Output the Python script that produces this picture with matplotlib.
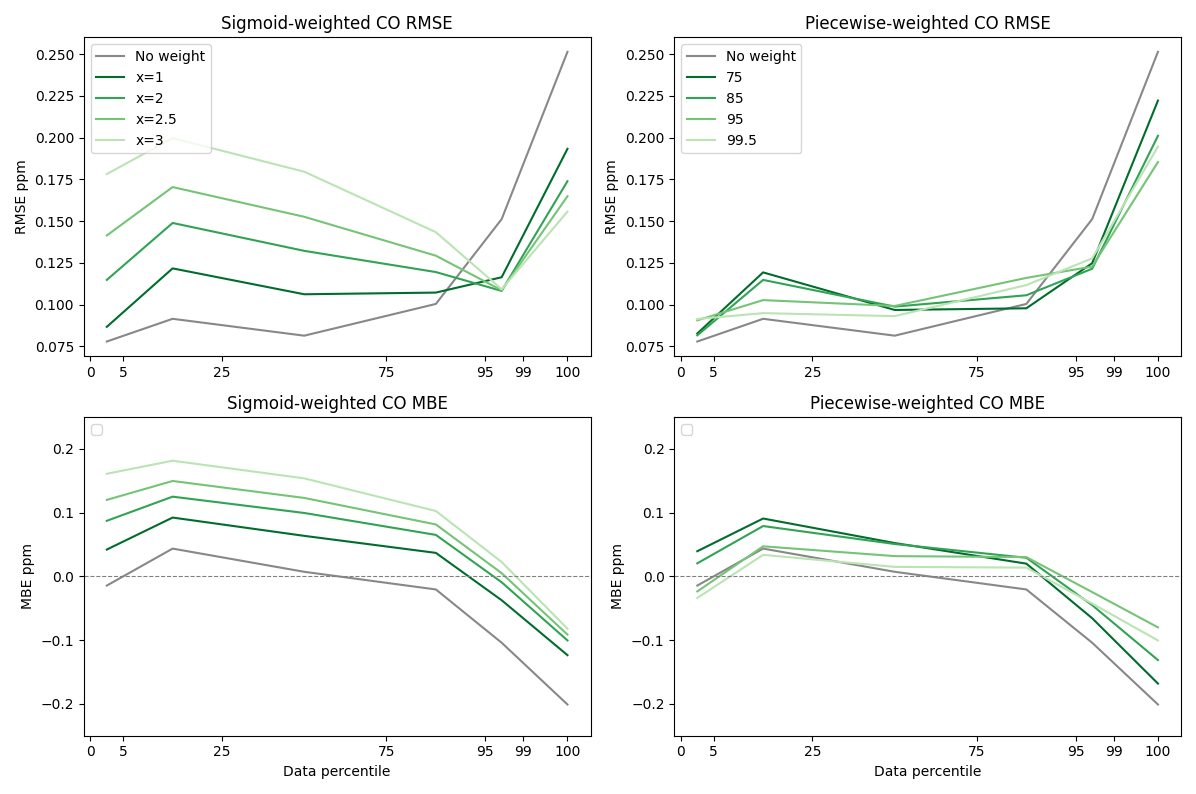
import matplotlib
matplotlib.use("Agg")
import matplotlib.pyplot as plt

# x positions of the percentile bins (uneven axis) and tick positions
x_pos = [0.5, 2.5, 6.5, 10.5, 12.5, 14.5]
tick_pos = [0, 1, 4, 9, 12, 13.15, 14.5]
tick_labels = ['0', '5', '25', '75', '95', '99', '100']

no_weight_rmse = [0.0779, 0.0915, 0.0814, 0.1004, 0.1512, 0.2514]
no_weight_mbe = [-0.0144, 0.0436, 0.0072, -0.0205, -0.1041, -0.2010]

sig_labels = ['x=1', 'x=2', 'x=2.5', 'x=3']
sig_rmse = [
    [0.0867, 0.1217, 0.1062, 0.1072, 0.1164, 0.1933],
    [0.1148, 0.1489, 0.1322, 0.1195, 0.1082, 0.1739],
    [0.1414, 0.1704, 0.1526, 0.1293, 0.1086, 0.1649],
    [0.1782, 0.1997, 0.1796, 0.1434, 0.1092, 0.1557],
]
sig_mbe = [
    [0.0421, 0.0923, 0.0636, 0.0369, -0.0374, -0.1236],
    [0.0872, 0.1251, 0.0995, 0.0651, -0.0092, -0.1005],
    [0.1200, 0.1497, 0.1231, 0.0815, 0.0051, -0.0913],
    [0.1610, 0.1815, 0.1538, 0.1026, 0.0226, -0.0821],
]

pw_labels = ['75', '85', '95', '99.5']
pw_rmse = [
    [0.0827, 0.1193, 0.0968, 0.0978, 0.1248, 0.2222],
    [0.0816, 0.1148, 0.0988, 0.1056, 0.1215, 0.2011],
    [0.0906, 0.1027, 0.0992, 0.1160, 0.1228, 0.1854],
    [0.0914, 0.0949, 0.0931, 0.1117, 0.1277, 0.1946],
]
pw_mbe = [
    [0.0395, 0.0908, 0.0523, 0.0200, -0.0656, -0.1682],
    [0.0205, 0.0790, 0.0508, 0.0292, -0.0451, -0.1313],
    [-0.0236, 0.0472, 0.0318, 0.0303, -0.0246, -0.0800],
    [-0.0338, 0.0338, 0.0149, 0.0138, -0.0426, -0.1005],
]

greens = ['#006d2c', '#31a354', '#74c476', '#bae4b3']
grey = '#888888'

fig, axes = plt.subplots(2, 2, figsize=(11.96, 7.94), dpi=100)

panels = [
    (axes[0, 0], no_weight_rmse, sig_rmse, sig_labels, 'Sigmoid-weighted CO RMSE', 'RMSE ppm', True),
    (axes[0, 1], no_weight_rmse, pw_rmse, pw_labels, 'Piecewise-weighted CO RMSE', 'RMSE ppm', True),
    (axes[1, 0], no_weight_mbe, sig_mbe, sig_labels, 'Sigmoid-weighted CO MBE', 'MBE ppm', False),
    (axes[1, 1], no_weight_mbe, pw_mbe, pw_labels, 'Piecewise-weighted CO MBE', 'MBE ppm', False),
]

for ax, base, series, labels, title, ylabel, is_rmse in panels:
    if is_rmse:
        ax.plot(x_pos, base, color=grey, label='No weight')
        for vals, lab, c in zip(series, labels, greens):
            ax.plot(x_pos, vals, color=c, label=lab)
    else:
        ax.plot(x_pos, base, color=grey)
        for vals, c in zip(series, greens):
            ax.plot(x_pos, vals, color=c)
        ax.axhline(0, color='grey', linestyle='--', linewidth=0.8)
        ax.set_ylim(-0.25, 0.25)
        ax.set_xlabel('Data percentile')
    ax.set_xticks(tick_pos)
    ax.set_xticklabels(tick_labels)
    ax.set_title(title)
    ax.set_ylabel(ylabel)
    ax.legend(loc='upper left')

plt.tight_layout()
plt.savefig('out.png')
